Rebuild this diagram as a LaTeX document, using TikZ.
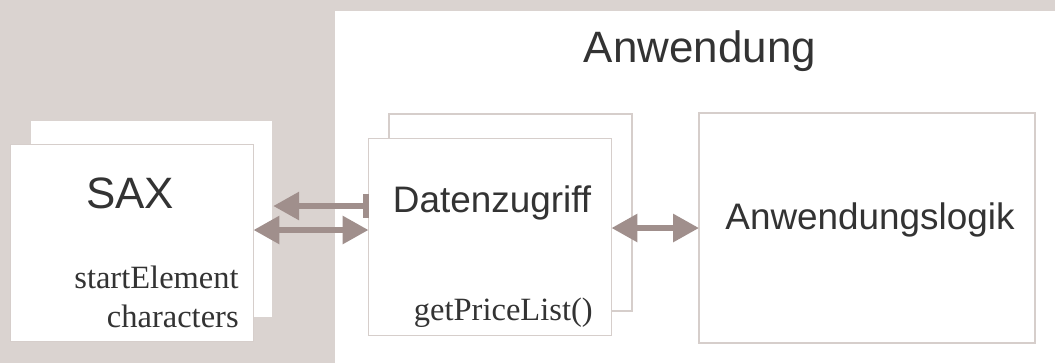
\documentclass[tikz,border=0pt]{standalone}
\usepackage{fontspec}
\setmainfont{Liberation Serif}
\setsansfont{Liberation Sans}
\usetikzlibrary{arrows.meta}
\definecolor{bggray}{RGB}{218,211,208}
\definecolor{boxline}{RGB}{214,206,203}
\definecolor{arrgray}{RGB}{160,143,140}
\definecolor{txtgray}{RGB}{51,51,51}

\begin{document}
\begin{tikzpicture}[x=0.02cm, y=-0.02cm,
box/.style={draw=boxline, fill=white, line width=0.8pt, outer sep=0pt, inner sep=0pt, minimum width=4.86cm, minimum height=3.94cm},
sanslabel/.style={font=\sffamily\fontsize{21}{25}\selectfont, text=txtgray, inner sep=0pt, anchor=base},
seriflabel/.style={font=\fontsize{18.5}{22}\selectfont, text=txtgray, inner sep=0pt, anchor=base east},
arr/.style={draw=arrgray, line width=3.4pt, {Triangle[length=0.52cm, width=0.54cm]}-{Triangle[length=0.52cm, width=0.54cm]}},
arrbar/.style={draw=arrgray, line width=3.4pt, {Triangle[length=0.52cm, width=0.54cm]}-{Bar[width=0.48cm]}}
]
    % background
    \fill[bggray] (0,0) rectangle (1055,363);
    \fill[white] (335,10.7) rectangle (1055,363);
    \node [sanslabel, font=\sffamily\fontsize{25}{30}\selectfont] (title) at (700,62) {Anwendung};

    % SAX
    \node [box, draw=bggray] (saxback) at (151.7,219) {};
    \node [box] (sax) at (132,243) {};
    \node [sanslabel, font=\sffamily\fontsize{25}{30}\selectfont] (saxlabel) at (130,208) {SAX};
    \node [seriflabel] (start) at (239,288) {startElement};
    \node [seriflabel] (chars) at (239,327) {characters};

    % Datenzugriff
    \node [box] (datback) at (510.5,212.5) {};
    \node [box] (dat) at (490,237) {};
    \node [sanslabel] (datlabel) at (492,212) {Datenzugriff};
    \node [seriflabel] (price) at (593,320) {getPriceList()};

    % Anwendungslogik
    \node [box, minimum width=6.72cm, minimum height=4.6cm] (logik) at (867,228) {};
    \node [sanslabel] (logiklabel) at (870,229) {Anwendungslogik};

    \coordinate (row1) at (0,206);
    \coordinate (row2) at (0,230);
    \draw [arrbar] (saxback.east |- row1) -- (dat.west |- row1);
    \draw [arr] (sax.east |- row2) -- (dat.west |- row2);
    \draw [arr] (dat.east |- logik.west) -- (logik.west);
\end{tikzpicture}
\end{document}
